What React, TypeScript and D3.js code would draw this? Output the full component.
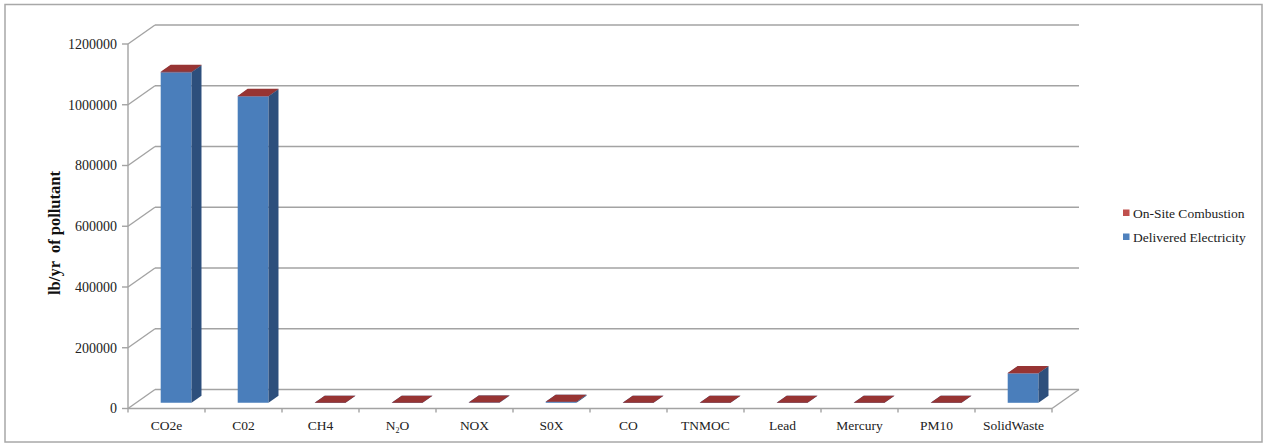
import React from "react";
import * as d3 from "d3";

// Pollutant categories along the floor of the 3-D column chart
const categories = [
  "CO2e", "C02", "CH4", "N2O", "NOX", "S0X", "CO", "TNMOC", "Lead", "Mercury", "PM10", "Solid Waste",
];

// lb/yr of pollutant per source
const deliveredElectricity = [1088000, 1009000, 20, 12, 700, 3500, 300, 40, 0.05, 0.02, 60, 97000];
const onSiteCombustion = [1500, 1400, 3, 1, 90, 120, 60, 10, 0.01, 0.001, 5, 1200];

const seriesNames = ["Delivered Electricity", "On-Site Combustion"];
const yTicks = [0, 200000, 400000, 600000, 800000, 1000000, 1200000];

const W = 1264;
const H = 444;

// Oblique projection of the depth axis
const DEPTH_X = 27;
const DEPTH_Y = -19;
const BAR_D0 = 0.3; // front face of the columns, as a fraction of the floor depth
const BAR_D1 = 0.67;

const COLORS = {
  elec: { front: "#4a7ebb", side: "#2d4f7c", top: "#3d6aa3" },
  site: { front: "#b8413e", side: "#7e2a28", top: "#973433" },
  grid: "#a3a3a3",
};

export default function App() {
  const x = d3.scaleBand<string>().domain(categories).range([128, 1052]).padding(0);
  const y = d3.scaleLinear().domain([0, 1200000]).range([408.5, 44]);

  const rows = categories.map((c, i) => ({
    cat: c,
    elec: deliveredElectricity[i],
    site: onSiteCombustion[i],
  }));
  const stacked = d3.stack<any>().keys(["elec", "site"])(rows);

  const bw = x.bandwidth() * 0.4;
  const sx = BAR_D0 * DEPTH_X;
  const sy = BAR_D0 * DEPTH_Y;
  const bdx = (BAR_D1 - BAR_D0) * DEPTH_X;
  const bdy = (BAR_D1 - BAR_D0) * DEPTH_Y;

  const pts = (p: number[][]) => p.map((q) => q.join(",")).join(" ");

  const x0 = x.range()[0];
  const x1 = x.range()[1];

  const fmt = d3.format("d");

  const bars: React.ReactNode[] = [];
  categories.forEach((c, i) => {
    const cx = (x(c) as number) + x.bandwidth() / 2 + 1.5;
    const xl = cx - bw / 2 + sx;
    const xr = xl + bw;
    stacked.forEach((layer) => {
      const key = layer.key as "elec" | "site";
      const col = COLORS[key];
      const [lo, hi] = layer[i];
      const yb = y(lo) + sy;
      const yt = y(hi) + sy;
      bars.push(
        <g key={`${c}-${key}`}>
          <polygon points={pts([[xl, yt], [xr, yt], [xr, yb], [xl, yb]])} fill={col.front} />
          <polygon
            points={pts([[xr, yt], [xr + bdx, yt + bdy], [xr + bdx, yb + bdy], [xr, yb]])}
            fill={col.side}
          />
          <polygon
            points={pts([[xl, yt], [xr, yt], [xr + bdx, yt + bdy], [xl + bdx, yt + bdy]])}
            fill={col.top}
          />
        </g>
      );
    });
  });

  return (
    <svg
      width={W}
      height={H}
      style={{ position: "absolute", left: 0, top: 0, background: "#fff" }}
      fontFamily="'Liberation Serif', 'Times New Roman', serif"
    >
      <rect x={5} y={4.5} width={1257} height={437.5} fill="#fff" stroke="#a8a8a8" strokeWidth={1.5} />

      {/* back wall gridlines and side-wall diagonals */}
      {yTicks.map((t) => (
        <g key={t}>
          <line x1={x0 + DEPTH_X} x2={x1 + DEPTH_X} y1={y(t) + DEPTH_Y} y2={y(t) + DEPTH_Y} stroke={COLORS.grid} strokeWidth={1.4} />
          <line x1={x0} x2={x0 + DEPTH_X} y1={y(t)} y2={y(t) + DEPTH_Y} stroke={COLORS.grid} strokeWidth={1.4} />
          <line x1={x0 - 6} x2={x0} y1={y(t)} y2={y(t)} stroke={COLORS.grid} strokeWidth={1.4} />
          <text x={117} y={y(t)} dy="0.35em" textAnchor="end" fontSize={14} fill="#222">
            {fmt(t)}
          </text>
        </g>
      ))}

      {/* floor */}
      <line x1={x1} x2={x1 + DEPTH_X} y1={y(0)} y2={y(0) + DEPTH_Y} stroke={COLORS.grid} strokeWidth={1.4} />
      <line x1={x0} x2={x0} y1={y(1200000)} y2={y(0)} stroke={COLORS.grid} strokeWidth={1.4} />

      {bars}

      {/* category axis */}
      <line x1={x0} x2={x1} y1={y(0)} y2={y(0)} stroke={COLORS.grid} strokeWidth={1.4} />
      {d3.range(categories.length + 1).map((k) => {
        const tx = x0 + k * x.bandwidth();
        return <line key={k} x1={tx} x2={tx} y1={y(0)} y2={y(0) + 4} stroke={COLORS.grid} strokeWidth={1.4} />;
      })}
      {categories.map((c) => {
        const cx = (x(c) as number) + x.bandwidth() / 2;
        return (
          <text key={c} x={cx} y={430} textAnchor="middle" fontSize={13.5} fill="#222" style={{ whiteSpace: "pre" }}>
            {c === "N2O" ? (
              <>
                N<tspan fontSize={8} dy={3}>2</tspan>
                <tspan dy={-3}>O</tspan>
              </>
            ) : c === "Solid Waste" ? (
              "SolidWaste"
            ) : (
              c
            )}
          </text>
        );
      })}

      {/* y axis title */}
      <text
        transform="translate(60,233) rotate(-90)"
        textAnchor="middle"
        fontSize={16.5}
        fontWeight="bold"
        fill="#111"
        style={{ whiteSpace: "pre" }}
      >
        {"lb/yr  of pollutant"}
      </text>

      {/* legend */}
      {[
        { name: seriesNames[1], color: "#c0504d", y: 213 },
        { name: seriesNames[0], color: "#4f81bd", y: 237 },
      ].map((d) => (
        <g key={d.name}>
          <rect x={1123} y={d.y - 3.5} width={6.5} height={6.5} fill={d.color} />
          <text x={1133} y={d.y} dy="0.35em" fontSize={13.5} fill="#222">
            {d.name}
          </text>
        </g>
      ))}
    </svg>
  );
}
